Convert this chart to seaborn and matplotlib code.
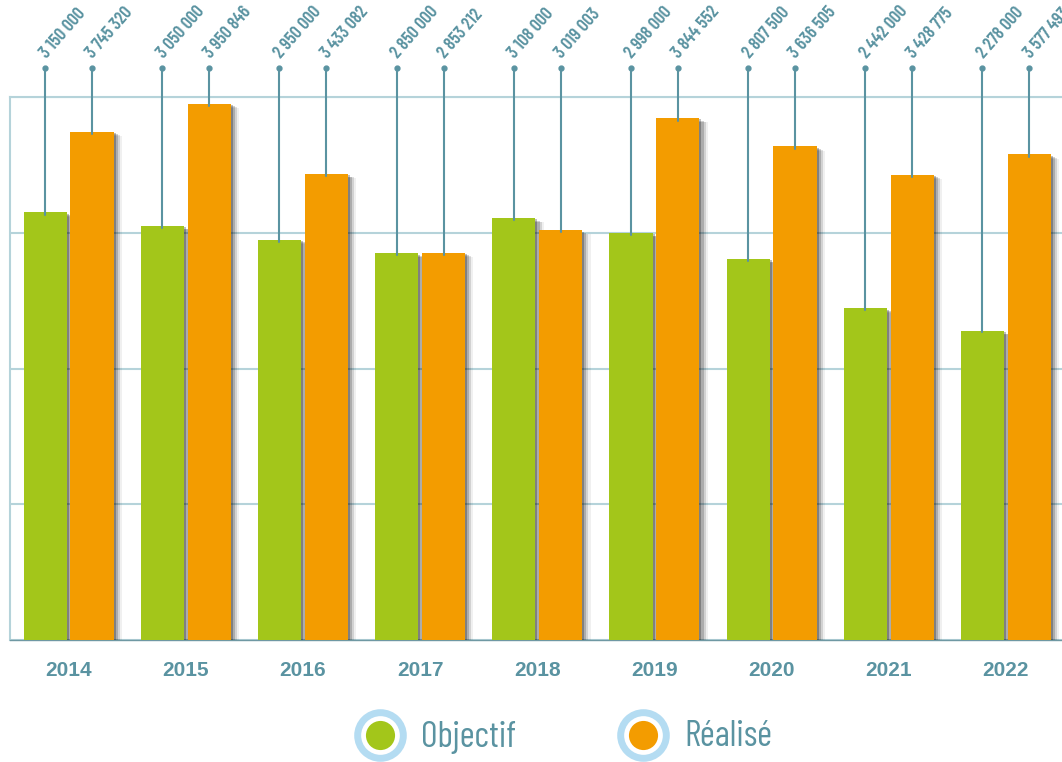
import matplotlib
matplotlib.use("Agg")
import matplotlib.pyplot as plt
import matplotlib.patheffects as pe
import pandas as pd
import seaborn as sns

years = ["2014", "2015", "2016", "2017", "2018", "2019", "2020", "2021", "2022"]
objectif = [3150000, 3050000, 2950000, 2850000, 3108000, 2998000, 2807500, 2442000, 2278000]
realise = [3745320, 3950846, 3433082, 2853212, 3019003, 3844552, 3636505, 3428775, 3577493]
series = ["Objectif", "Réalisé"]
colors = ["#a3c61a", "#f39c00"]

teal = "#5a93a1"
grid_col = "#b5d3da"
narrow = ["Barlow Condensed", "Liberation Sans", "DejaVu Sans"]

df = pd.DataFrame({
    "Année": years * 2,
    "Valeur": objectif + realise,
    "Série": [series[0]] * len(years) + [series[1]] * len(years),
})

sns.set_theme(style="white")
plt.rcParams["font.family"] = ["Liberation Sans", "DejaVu Sans"]

fig = plt.figure(figsize=(10.62, 7.62), dpi=100)
ax = fig.add_axes([10 / 1062, 122 / 762, 1054.5 / 1062, 543 / 762])

sns.barplot(data=df, x="Année", y="Valeur", hue="Série", palette=colors,
            width=0.8, gap=0.08, saturation=1, linewidth=0, legend=False, ax=ax)

# soft drop shadow on the bars
shadow = [pe.SimplePatchShadow(offset=(6, -3), shadow_rgbFace="#000000", alpha=0.06),
          pe.SimplePatchShadow(offset=(4.5, -2.5), shadow_rgbFace="#000000", alpha=0.12),
          pe.SimplePatchShadow(offset=(3, -2), shadow_rgbFace="#000000", alpha=0.18),
          pe.SimplePatchShadow(offset=(1.5, -1), shadow_rgbFace="#000000", alpha=0.25),
          pe.Normal()]
for bar in ax.patches:
    bar.set_path_effects(shadow)
    bar.set_zorder(3)

ax.set_xlim(-0.5, len(years) - 0.5)
ax.set_ylim(0, 4e6)
ax.set_yticks([0, 1e6, 2e6, 3e6, 4e6])
ax.set_yticklabels([])
ax.grid(axis="y", color=grid_col, lw=1.5, zorder=0)
ax.set_axisbelow(True)
ax.set_xlabel("")
ax.set_ylabel("")
ax.tick_params(axis="x", length=0, pad=15, labelsize=15, labelcolor=teal)
for t in ax.get_xticklabels():
    t.set_fontweight("bold")
for side in ["left", "top"]:
    ax.spines[side].set_color(grid_col)
    ax.spines[side].set_linewidth(1.5)
ax.spines["right"].set_visible(False)
ax.spines["bottom"].set_color("#6f98a3")
ax.spines["bottom"].set_linewidth(1)

# leader lines with rotated value labels
leader_top = 4.21e6
for cont, vals in zip(ax.containers, [objectif, realise]):
    for bar, v in zip(cont, vals):
        x = bar.get_x() + bar.get_width() / 2
        ax.plot([x, x], [bar.get_height() * 0.995, leader_top], color=teal, lw=1.5,
                clip_on=False, zorder=4)
        ax.plot([x], [leader_top], "o", color=teal, ms=3.5, clip_on=False, zorder=4)
        label = f"{v:,}".replace(",", " ")
        ax.annotate(label, xy=(x, leader_top), xytext=(1, 6.5), textcoords="offset points",
                    rotation=49, rotation_mode="anchor", ha="left", va="baseline",
                    fontsize=13, fontweight=600, color=teal, family=narrow,
                    annotation_clip=False)

# legend with ringed dots
lax = fig.add_axes([0, 0, 1, 1])
lax.set_xlim(0, 1062)
lax.set_ylim(762, 0)
lax.axis("off")
lax.patch.set_alpha(0)
for cx, name, col in zip([380, 643], series, colors):
    lax.scatter([cx], [735], s=1080, facecolor="white", edgecolor="#b4dcf2", lw=5, zorder=2)
    lax.scatter([cx], [735], s=440, color=col, lw=0, zorder=3)
    lax.text(cx + 41, 737, name, fontsize=26, color=teal, family=narrow,
             ha="left", va="center")

fig.savefig("out.png", dpi=100)
